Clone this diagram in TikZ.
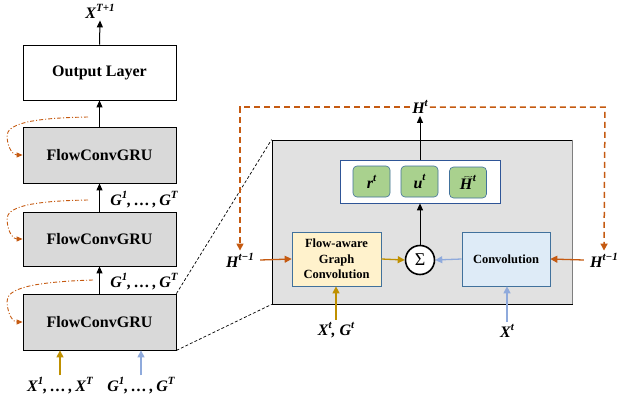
\documentclass[tikz,border=0pt]{standalone}
\usepackage{graphicx}
\usepackage{fontspec}
\setmainfont{Liberation Serif}
\usetikzlibrary{arrows.meta}
\definecolor{orng}{HTML}{C55A11}
\definecolor{gold}{HTML}{BF9000}
\definecolor{lblue}{HTML}{8FAADC}
\definecolor{bblue}{HTML}{41719C}
\definecolor{iblue}{HTML}{2F5597}
\definecolor{grn}{HTML}{A9D18E}
\definecolor{ylw}{HTML}{FFF2CC}
\definecolor{cfill}{HTML}{DEEBF7}
\definecolor{gbox}{HTML}{D9D9D9}
\definecolor{gpanel}{HTML}{E1E1E1}
\definecolor{gedge}{HTML}{7F7F7F}
\newcommand{\mf}{\bfseries\itshape}
\newcommand{\V}[2]{{\mf #1\raisebox{0.45em}{\fontsize{11}{11}\selectfont #2}}}
\newcommand{\sqq}{,\,…\,,\,}
\newcommand{\tH}{{\mf\ooalign{H\cr\hskip4pt\raisebox{9.5pt}{\resizebox{9pt}{3pt}{\normalfont\char"7E}}\cr}}\raisebox{0.45em}{\fontsize{11}{11}\selectfont\mf t}}
\tikzset{
  layer/.style={draw=black, line width=0.8pt, minimum width=153pt, font=\fontsize{16}{19}\selectfont\bfseries, inner sep=0pt},
  gru/.style={layer, fill=gbox},
  mlab/.style={inner sep=2pt, font=\fontsize{16}{19}\selectfont\mf},
  gate/.style={draw=bblue, fill=grn, rounded corners=4pt, minimum width=37pt, minimum height=31pt, inner sep=0pt, line width=0.6pt, font=\fontsize{16}{19}\selectfont\mf},
  opbox/.style={draw=bblue, line width=0.7pt, inner sep=0pt, align=center, font=\fontsize{12.5}{15.5}\selectfont\bfseries},
  arr/.style={-{Triangle[length=7pt,width=6pt]}, line width=1pt},
  oarr/.style={arr, draw=orng, line width=1.3pt, -{Triangle[length=7pt,width=7pt]}},
  garr/.style={arr, draw=gold, line width=1.3pt, -{Triangle[length=7pt,width=7pt]}},
  barr/.style={arr, draw=lblue, line width=1.3pt, -{Triangle[length=7pt,width=7pt]}},
  odash/.style={draw=orng, line width=1.5pt, dash pattern=on 6pt off 4pt},
  odashdot/.style={draw=orng, line width=0.9pt, dash pattern=on 4pt off 2pt on 1pt off 2pt, -{Triangle[length=6pt,width=5pt]}},
  zoomline/.style={draw=black, line width=0.7pt, dash pattern=on 3pt off 2pt}
}
\begin{document}
\begin{tikzpicture}[x=1pt,y=-1pt]
\useasboundingbox (0,0) rectangle (621,407);
% left column
\node[layer, fill=white, minimum height=55pt] (out) at (99.5,72.5) {Output Layer};
\node[gru, minimum height=56pt] (f1) at (99.5,155) {FlowConvGRU};
\node[gru, minimum height=54pt] (f2) at (99.5,239) {FlowConvGRU};
\node[gru, minimum height=56pt] (f3) at (99.5,322) {FlowConvGRU};
\node[mlab] (xT1) at (100,11) {\V{X}{T+1}};
\draw[arr] (out.north) -- (xT1.south);
\draw[arr] (f1.north) -- (out.south);
\draw[arr] (f2.north) -- (f1.south);
\draw[arr] (f3.north) -- (f2.south);
\node[mlab] (g1) at (144,200) {\V{G}{1}\sqq\V{G}{T}};
\node[mlab] (g2) at (144,282) {\V{G}{1}\sqq\V{G}{T}};
\node[mlab] (xl) at (60,386) {\V{X}{1}\sqq\V{X}{T}};
\node[mlab] (gl) at (141,386) {\V{G}{1}\sqq\V{G}{T}};
\draw[garr] (xl.north) -- (xl.north |- f3.south);
\draw[barr] (gl.north) -- (gl.north |- f3.south);
% recurrent dash-dot arrows
\coordinate (s1) at (88,117);
\coordinate (s2) at (88,200);
\coordinate (s3) at (93,280);
\draw[odashdot] (s1) .. controls (30,118) and (6,124) .. (7,137) .. controls (8,150) and (14,155) .. (f1.west);
\draw[odashdot] (s2) .. controls (30,201) and (6,207) .. (7,220) .. controls (8,234) and (14,239) .. (f2.west);
\draw[odashdot] (s3) .. controls (30,282) and (6,289) .. (7,302) .. controls (8,317) and (14,322) .. (f3.west);
% right panel
\node[draw=black, fill=gpanel, line width=0.8pt, minimum width=300pt, minimum height=164pt, inner sep=0pt] (panel) at (422,222) {};
\draw[gedge, line width=1.6pt] (panel.north east) -- (panel.south east);
\draw[zoomline] (f3.north east) -- (panel.north west);
\draw[zoomline] (f3.south east) -- (panel.south west);
\node[draw=iblue, fill=white, line width=0.7pt, minimum width=160pt, minimum height=43pt, inner sep=0pt] (inner) at (420,181.5) {};
\node[gate] (r) at (371.5,181.5) {\V{r}{t}};
\node[gate] (u) at (419.5,181.5) {\V{u}{t}};
\node[gate] (ht) at (468,182.5) {\tH};
\node[mlab] (Ht) at (420,107) {\V{H}{t}};
\draw[arr] (inner.north -| Ht) -- (Ht.south);
\node[draw=black, fill=white, circle, line width=1.6pt, minimum size=29pt, inner sep=0pt, font=\fontsize{18}{20}\selectfont] (sig) at (420,260) {Σ};
\draw[arr] (sig.north) -- (sig.north |- inner.south);
\node[opbox, fill=ylw, minimum width=89pt, minimum height=54pt] (flow) at (336.5,259) {Flow-aware\\Graph\\Convolution};
\node[opbox, fill=cfill, minimum width=88pt, minimum height=54pt] (conv) at (506,259) {Convolution};
\draw[garr] (flow.east) -- (sig.west);
\draw[barr] (conv.west) -- (sig.east);
\node[mlab] (Hl) at (240,260) {\V{H}{t−1}};
\node[mlab] (Hr) at (604,260) {\V{H}{t−1}};
\draw[oarr] (Hl.east) ++(4pt,0) -- (flow.west);
\draw[oarr] (Hr.west) ++(-4pt,0) -- (conv.east);
\node[mlab] (xg) at (336,330) {\V{X}{t}, \V{G}{t}};
\node[mlab] (xt) at (507,331) {\V{X}{t}};
\draw[garr] (xg.north) -- (xg.north |- flow.south);
\draw[barr] (xt.north) -- (xt.north |- conv.south);
% H^t feedback dashed lines
\draw[odash, -{Triangle[length=7pt,width=7pt]}] (Ht.east) -- (605,107) -- (Hr.north);
\draw[odash, -{Triangle[length=7pt,width=7pt]}] (Ht.west) -- (240,107) -- (Hl.north);
\end{tikzpicture}
\end{document}
